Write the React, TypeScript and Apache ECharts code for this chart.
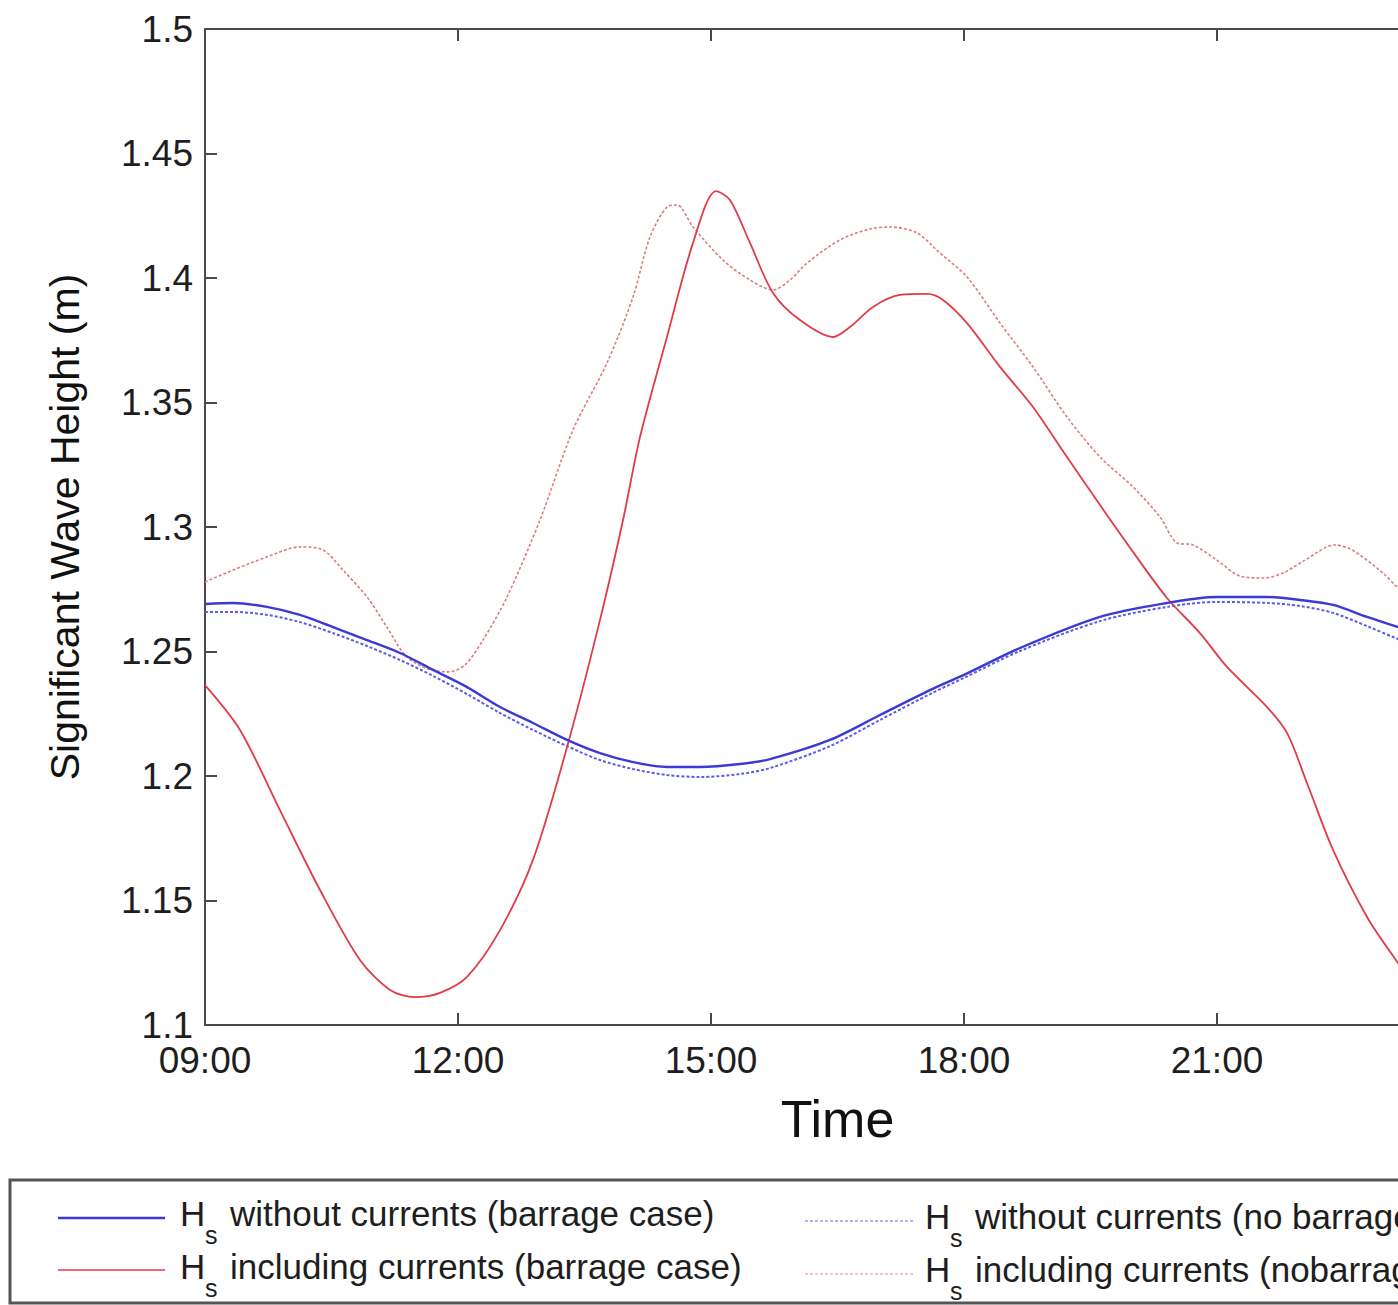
import React, { useEffect, useRef } from "react";
import * as echarts from "echarts";

// Time in decimal hours, value = significant wave height (m)
const xMin = 9;
const xMax = 24;
const xStep = 3;
const yMin = 1.1;
const yMax = 1.5;
const yStep = 0.05;

const withoutCurrentsBarrage: [number, number][] = [
  [9.0, 1.2691], [9.332, 1.2695], [9.735, 1.2679], [10.126, 1.2647], [10.518, 1.2598],
  [10.921, 1.2546], [11.312, 1.2494], [11.704, 1.2426], [12.107, 1.2357], [12.498, 1.2277],
  [12.889, 1.2213], [13.293, 1.2145], [13.684, 1.2092], [14.075, 1.2056], [14.478, 1.2036],
  [14.87, 1.2036], [15.344, 1.2048], [15.7, 1.2068], [16.411, 1.2145], [17.004, 1.2245],
  [17.597, 1.2345], [18.0, 1.2406], [18.664, 1.2514], [19.613, 1.2639], [20.407, 1.2695],
  [21.0, 1.2719], [21.593, 1.2719], [21.984, 1.2707], [22.376, 1.2687], [22.779, 1.2639],
  [23.146, 1.2598], [23.6, 1.2555],
];

const withoutCurrentsNoBarrage: [number, number][] = [
  [9.0, 1.2659], [9.332, 1.2659], [9.735, 1.2647], [10.126, 1.2618], [10.518, 1.2574],
  [10.921, 1.2522], [11.312, 1.2466], [11.704, 1.2402], [12.107, 1.2329], [12.498, 1.2253],
  [12.889, 1.2185], [13.293, 1.212], [13.684, 1.2064], [14.075, 1.2028], [14.478, 1.2004],
  [14.87, 1.1996], [15.344, 1.2008], [15.7, 1.2032], [16.411, 1.212], [17.004, 1.2225],
  [17.597, 1.2329], [18.0, 1.2394], [18.664, 1.2502], [19.613, 1.2622], [20.407, 1.2679],
  [21.0, 1.2699], [21.593, 1.2695], [21.984, 1.2683], [22.376, 1.2655], [22.779, 1.2602],
  [23.146, 1.255], [23.6, 1.249],
];

const includingCurrentsBarrage: [number, number][] = [
  [9.0, 1.2365], [9.415, 1.2185], [9.889, 1.1863], [10.364, 1.1542], [10.838, 1.1261],
  [11.194, 1.1141], [11.49, 1.1112], [11.787, 1.1129], [12.107, 1.1193], [12.498, 1.1381],
  [12.889, 1.1663], [13.293, 1.2116], [13.684, 1.2627], [13.957, 1.3028], [14.158, 1.3361],
  [14.478, 1.3763], [14.787, 1.4141], [15.059, 1.4349], [15.225, 1.4313], [15.462, 1.4141],
  [15.735, 1.394], [16.055, 1.3831], [16.447, 1.3763], [16.648, 1.3803], [16.921, 1.3884],
  [17.241, 1.3932], [17.561, 1.3936], [17.751, 1.3912], [18.036, 1.3819], [18.427, 1.3643],
  [18.818, 1.3482], [19.221, 1.3281], [19.613, 1.3088], [20.004, 1.29], [20.407, 1.2715],
  [20.798, 1.2574], [21.119, 1.2438], [21.593, 1.2277], [21.83, 1.2173], [22.067, 1.1972],
  [22.376, 1.1703], [22.779, 1.1434], [23.146, 1.1249], [23.4, 1.113],
];

const includingCurrentsNoBarrage: [number, number][] = [
  [9.0, 1.2779], [9.332, 1.2827], [9.735, 1.288], [10.126, 1.292], [10.399, 1.2908],
  [10.636, 1.2827], [10.921, 1.2719], [11.158, 1.2598], [11.372, 1.2486], [11.609, 1.2434],
  [11.881, 1.2418], [12.083, 1.2446], [12.296, 1.2546], [12.581, 1.2719], [12.972, 1.3028],
  [13.364, 1.339], [13.767, 1.3659], [14.075, 1.3924], [14.277, 1.4165], [14.478, 1.4285],
  [14.597, 1.4293], [14.787, 1.4205], [15.142, 1.4072], [15.462, 1.3992], [15.735, 1.3952],
  [15.937, 1.3992], [16.138, 1.406], [16.53, 1.4153], [16.885, 1.4197], [17.123, 1.4205],
  [17.443, 1.4181], [17.715, 1.41], [18.036, 1.4004], [18.427, 1.3819], [18.818, 1.3643],
  [19.221, 1.3442], [19.613, 1.3281], [20.004, 1.3161], [20.324, 1.304], [20.526, 1.2936],
  [20.715, 1.2928], [21.0, 1.2867], [21.273, 1.2803], [21.569, 1.2795], [21.806, 1.2819],
  [22.043, 1.2867], [22.399, 1.2928], [22.601, 1.2908], [22.968, 1.2815], [23.146, 1.2755],
  [23.6, 1.262],
];

const legendTexts = [
  "without currents (barrage case)",
  "including currents (barrage case)",
  "without currents (no barrage case)",
  "including currents (nobarrage case)",
];

const FONT = "'Liberation Sans', Arial, sans-serif";
const AXIS_COLOR = "#4a4a4a";
const TEXT_COLOR = "#1e1e1e";
const BLUE = "#3a3ad6";
const BLUE_LIGHT = "#5c5ce6";
const RED = "#e03c48";
const RED_LIGHT = "#e27a80";

function legendEntry(
  x0: number,
  x1: number,
  lineY: number,
  textX: number,
  textY: number,
  color: string,
  dash: number[] | null,
  width: number,
  label: string
) {
  const els: any[] = [
    {
      type: "line",
      shape: { x1: x0, y1: lineY, x2: x1, y2: lineY },
      style: { stroke: color, lineWidth: width, lineDash: dash || undefined },
    },
    {
      type: "text",
      x: textX,
      y: textY,
      style: { text: "H", font: `35px ${FONT}`, fill: TEXT_COLOR, textVerticalAlign: "middle", textAlign: "left" },
    },
    {
      type: "text",
      x: textX + 25,
      y: textY + 22,
      style: { text: "s", font: `25px ${FONT}`, fill: TEXT_COLOR, textVerticalAlign: "middle", textAlign: "left" },
    },
    {
      type: "text",
      x: textX + 50,
      y: textY,
      style: { text: label, font: `35px ${FONT}`, fill: TEXT_COLOR, textVerticalAlign: "middle", textAlign: "left" },
    },
  ];
  return els;
}

export default function App() {
  const ref = useRef<HTMLDivElement>(null);

  useEffect(() => {
    if (!ref.current) return;
    const chart = echarts.init(ref.current, undefined, { renderer: "svg" });

    const axisLine = { show: true, lineStyle: { color: AXIS_COLOR, width: 2 } };
    const axisTick = { show: true, inside: true, length: 12, lineStyle: { color: AXIS_COLOR, width: 2 } };

    const graphic: any[] = [
      {
        type: "rect",
        shape: { x: 10, y: 1180, width: 1530, height: 123 },
        style: { fill: "#fff", stroke: "#555", lineWidth: 3 },
        z: 0,
      },
      ...legendEntry(58, 165, 1218, 180, 1213, BLUE, null, 2.5, legendTexts[0]),
      ...legendEntry(58, 165, 1270, 180, 1266, RED, null, 1.5, legendTexts[1]),
      ...legendEntry(805, 915, 1221, 925, 1216, "#b4b4f2", [3, 2], 2, legendTexts[2]),
      ...legendEntry(805, 915, 1274, 925, 1269, "#f2c4c6", [3, 2], 2, legendTexts[3]),
    ];

    chart.setOption({
      animation: false,
      backgroundColor: "#ffffff",
      grid: { left: 205, top: 29, width: 1265, height: 996, containLabel: false },
      xAxis: [
        {
          type: "value",
          min: xMin,
          max: xMax,
          interval: xStep,
          position: "bottom",
          axisLine,
          axisTick,
          splitLine: { show: false },
          axisLabel: {
            fontSize: 37,
            fontFamily: FONT,
            color: TEXT_COLOR,
            margin: 17,
            formatter: (v: number) => (v >= xMax ? "" : (v < 10 ? "0" : "") + v + ":00"),
          },
          name: "Time",
          nameLocation: "middle",
          nameGap: 68,
          nameTextStyle: { fontSize: 52, fontFamily: FONT, color: "#111" },
        },
        {
          type: "value",
          min: xMin,
          max: xMax,
          interval: xStep,
          position: "top",
          axisLine,
          axisTick,
          splitLine: { show: false },
          axisLabel: { show: false },
        },
      ],
      yAxis: [
        {
          type: "value",
          min: yMin,
          max: yMax,
          interval: yStep,
          position: "left",
          axisLine,
          axisTick,
          splitLine: { show: false },
          axisLabel: {
            fontSize: 37,
            fontFamily: FONT,
            color: TEXT_COLOR,
            margin: 12,
            formatter: (v: number) => String(parseFloat(v.toFixed(2))),
          },
          name: "Significant Wave Height (m)",
          nameLocation: "middle",
          nameGap: 120,
          nameTextStyle: { fontSize: 41, fontFamily: FONT, color: "#111" },
        },
        {
          type: "value",
          min: yMin,
          max: yMax,
          interval: yStep,
          position: "right",
          axisLine,
          axisTick,
          splitLine: { show: false },
          axisLabel: { show: false },
        },
      ],
      series: [
        {
          name: "Hs including currents (nobarrage case)",
          type: "line",
          data: includingCurrentsNoBarrage,
          showSymbol: false,
          smooth: 0.3,
          lineStyle: { color: RED_LIGHT, width: 1.6, type: [3, 2] },
          z: 2,
        },
        {
          name: "Hs without currents (no barrage case)",
          type: "line",
          data: withoutCurrentsNoBarrage,
          showSymbol: false,
          smooth: 0.3,
          lineStyle: { color: BLUE_LIGHT, width: 2, type: [3, 2] },
          z: 3,
        },
        {
          name: "Hs including currents (barrage case)",
          type: "line",
          data: includingCurrentsBarrage,
          showSymbol: false,
          smooth: 0.3,
          lineStyle: { color: RED, width: 1.8 },
          z: 4,
        },
        {
          name: "Hs without currents (barrage case)",
          type: "line",
          data: withoutCurrentsBarrage,
          showSymbol: false,
          smooth: 0.3,
          lineStyle: { color: BLUE, width: 2.4 },
          z: 5,
        },
      ],
      graphic,
    });

    return () => chart.dispose();
  }, []);

  return (
    <div
      style={{
        position: "absolute",
        left: 0,
        top: 0,
        width: 1398,
        height: 1305,
        overflow: "hidden",
        background: "#ffffff",
      }}
    >
      <div ref={ref} style={{ width: 1560, height: 1305 }} />
    </div>
  );
}
